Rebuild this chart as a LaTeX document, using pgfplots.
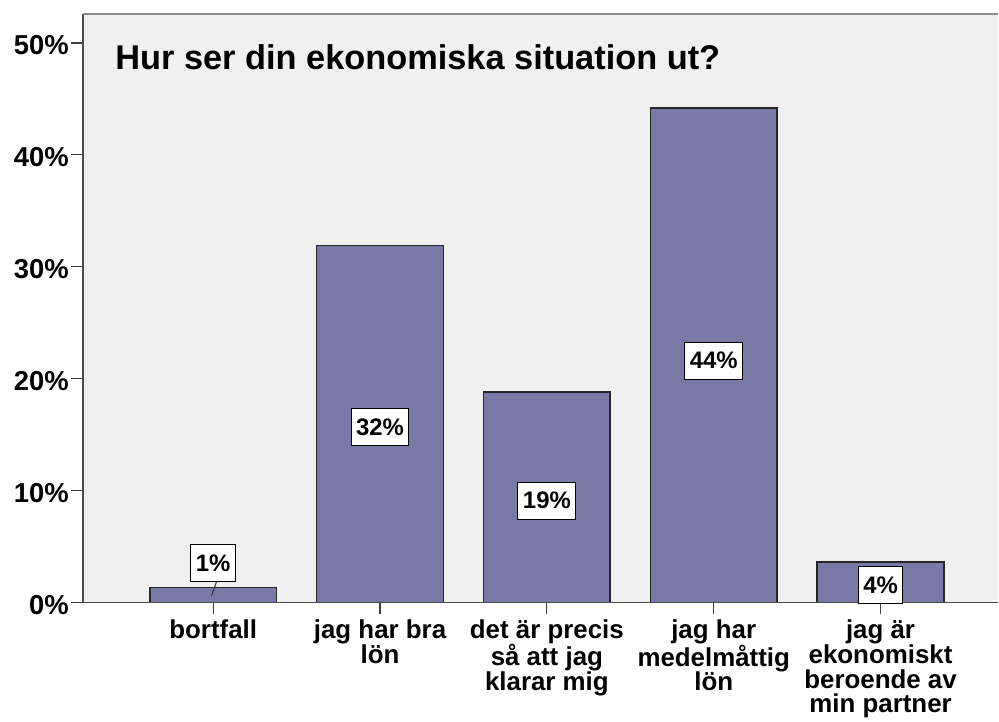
\documentclass[border=0pt]{standalone}
\usepackage{fontspec}
\setmainfont{Liberation Sans}
\usepackage{pgfplots}
\pgfplotsset{compat=1.18}
\usepackage{pgfplotstable}
\definecolor{barfill}{RGB}{121,121,166}
\definecolor{bgc}{RGB}{240,240,240}
\pgfplotstableread{
x v ly lab
0 1.34 3.5 1
1 31.9 15.67 32
2 18.8 9.1 19
3 44.2 21.6 44
4 3.6 1.56 4
}\data
\begin{document}
\begin{tikzpicture}
\path (-83bp,-119bp) rectangle (916bp,603bp);
\begin{axis}[
  at={(0,0)}, anchor=south west, scale only axis,
  width=916bp, height=589bp,
  xmin=-0.781, xmax=4.704, ymin=0, ymax=52.59,
  axis background/.style={fill=bgc},
  axis line style={draw=none},
  xtick={0,1,2,3,4},
  xticklabels={bortfall,{jag har bra\\lön},{det är precis\\så att jag\\klarar mig},{jag har\\medelmåttig\\lön},{jag är\\ekonomiskt\\beroende av\\min partner}},
  xticklabel style={align=center, font=\fontsize{26}{25}\selectfont\bfseries, inner sep=2bp, yshift=-3bp},
  ytick={0,10,20,30,40,50},
  yticklabel={\pgfmathprintnumber{\tick}\%},
  yticklabel style={font=\fontsize{27.5}{27}\selectfont\bfseries, inner sep=2bp, yshift=-2.5bp},
  /pgf/number format/assume math mode=true,
  tick align=outside, major tick length=12bp,
  tick style={draw=black!75, line width=1.2bp},
  xtick pos=left, ytick pos=left,
  clip=false,
]
\addplot[ybar, bar width=0.76, fill=barfill, draw=black!85, line width=1.6bp] table[x=x,y=v]{\data};
\draw[black!70, line width=1.5bp] (rel axis cs:0,1) -- (rel axis cs:0,0) -- (rel axis cs:1,0);
\draw[black!45, line width=2bp] (rel axis cs:0,1) -- (rel axis cs:1,1);
\draw[black!80, line width=1bp] (axis cs:0.02,1.85) -- (axis cs:-0.01,0.6);
\addplot[draw=none, mark=none, point meta=explicit symbolic,
  nodes near coords={\pgfplotspointmeta\%},
  every node near coord/.append style={anchor=center, fill=white, draw=black, line width=1bp,
    font=\fontsize{24}{24}\selectfont\bfseries, inner xsep=5bp, minimum height=37bp}]
  table[x=x,y=ly,meta=lab]{\data};
\end{axis}
\node[anchor=base west, font=\fontsize{34.5}{34}\selectfont\bfseries] at (29bp,533bp) {Hur ser din ekonomiska situation ut?};
\end{tikzpicture}
\end{document}
